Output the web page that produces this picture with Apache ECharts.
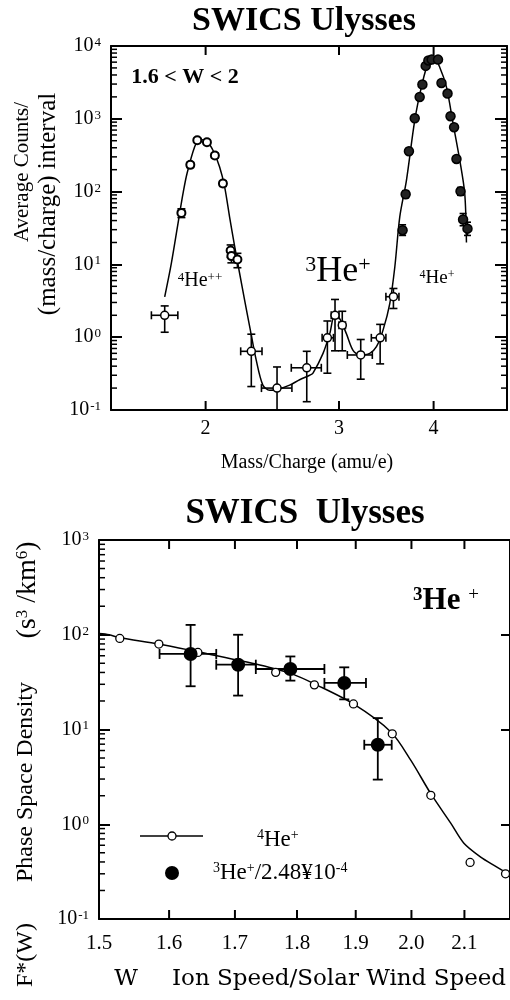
<!DOCTYPE html>
<html><head><meta charset="utf-8">
<script src="https://cdn.jsdelivr.net/npm/echarts@6/dist/echarts.min.js"></script>
<style>html,body{margin:0;padding:0;background:#fff}#c{width:510px;height:1000px}</style>
</head><body><div id="c"></div>
<script>
// ================= TOP PANEL (counts vs mass/charge) =================
const MQ_TICKS = [2, 3, 4];
const MQ_TICK_LABELS = ['2', '3', '4'];
// open circles with error bars
const LOW_MQ     = [1.766, 2.298, 2.485, 2.720, 2.896, 2.964, 3.030, 3.205, 3.400, 3.540];
const LOW_CNT    = [2.0,   0.64,  0.20,  0.38,  0.98,  2.0,   1.46,  0.57,  0.98,  3.6];
const LOW_MQ_LO  = [1.696, 2.225, 2.370, 2.595, 2.850, 2.930, 3.000, 3.077, 3.310, 3.460];
const LOW_MQ_HI  = [1.838, 2.374, 2.600, 2.843, 2.950, 3.000, 3.060, 3.320, 3.460, 3.600];
const LOW_CNT_LO = [1.17,  0.21,  0.10,  0.13,  0.32,  0.65,  0.65,  0.265, 0.43,  2.48];
const LOW_CNT_HI = [2.69,  1.10,  0.39,  0.64,  1.67,  3.3,   2.27,  0.93,  1.5,   4.67];
// 4He++ peak points
const PKL_MQ     = [1.858, 1.909, 1.950, 2.008, 2.057, 2.108, 2.158, 2.163, 2.203];
const PKL_CNT    = [51,    233,   508,   477,   313,   129,   15.5,  13,    11.7];
const PKL_CNT_LO = [44,    215,   480,   450,   290,   118,   12.5,  10.5,  9.0];
const PKL_CNT_HI = [58,    252,   540,   505,   338,   141,   18.5,  15.5,  14.2];
// 4He+ peak points
const PKR_MQ     = [3.640, 3.674, 3.711, 3.777, 3.834, 3.866, 3.905, 3.937, 3.977, 4.054, 4.097, 4.173, 4.211, 4.257, 4.288, 4.341, 4.375, 4.434];
const PKR_CNT    = [29.5,  92,    359,   1018,  1995,  2960,  5330,  6330,  6500,  6500,  3110,  2220,  1086,  767,   281,   101,   41.4,  31];
const PKR_CNT_LO = [25,    82,    330,   950,   1870,  2780,  5050,  6000,  6150,  6150,  2920,  2070,  1010,  710,   255,   89,    34,    25];
const PKR_CNT_HI = [35,    103,   390,   1090,  2130,  3150,  5620,  6680,  6860,  6860,  3310,  2380,  1170,  830,   310,   114,   50,    38];
// fitted curve
const FIT1_MQ  = [1.766, 1.802, 1.848, 1.867, 1.890, 1.934, 1.964, 2.004, 2.045, 2.087, 2.119, 2.151, 2.184, 2.218, 2.252, 2.287, 2.333, 2.380, 2.430, 2.480, 2.582, 2.662, 2.744, 2.772, 2.858, 2.917, 2.961, 3.006, 3.068, 3.131, 3.195, 3.294, 3.362, 3.430, 3.501, 3.555, 3.609, 3.683, 3.777, 3.855, 3.933, 4.013, 4.075, 4.159, 4.244, 4.331, 4.397, 4.420];
const FIT1_CNT = [3.58,  10.3,  50,    94,    177,   411,   520,   497,   370,   218,   116,   45,    18,    7.5,   3.2,   1.39,  0.48,  0.22,  0.187, 0.19,  0.22,  0.26,  0.30,  0.32,  0.6,   1.12,  2.0,   1.8,   1.12,  0.66,  0.57,  0.6,   0.74,  1.25,  2.9,   9.2,   45,    143,   950,   2740,  5730,  6600,  5110,  2740,  860,   270,   94,    20];

// ================= BOTTOM PANEL (phase space density vs W) =================
const W_TICKS = [1.5, 1.6, 1.7, 1.8, 1.9, 2.0, 2.1];
const W_TICK_LABELS = ['1.5', '1.6', '1.7', '1.8', '1.9', '2.0', '2.1'];
const HE4_W = [1.529, 1.585, 1.643, 1.765, 1.829, 1.896, 1.965, 2.036, 2.111, 2.181];
const HE4_F = [91.4,  79.8,  65.1,  40.1,  29.6,  18.6,  9.0,   2.02,  0.395, 0.30];
const FIT2_W = [1.500, 1.514, 1.529, 1.585, 1.643, 1.733, 1.765, 1.792, 1.829, 1.896, 1.963, 1.999, 2.036, 2.074, 2.099, 2.131, 2.163, 2.190];
const FIT2_F = [103,   100,   93,    80,    66,    49.2,  43.5,  38.6,  30.3,  18.6,  9.37,  4.72,  2.10,  1.02,  0.63,  0.453, 0.355, 0.29];
const HE3_W    = [1.632, 1.705, 1.789, 1.880, 1.939];
const HE3_F    = [62.7,  48.3,  43.5,  31.0,  6.9];
const HE3_W_LO = [1.586, 1.671, 1.733, 1.846, 1.915];
const HE3_W_HI = [1.671, 1.733, 1.846, 1.918, 1.964];
const HE3_F_LO = [28.6,  22.8,  32.8,  20.8,  2.96];
const HE3_F_HI = [127,   100,   59,    45.3,  13.2];

const MINOR_MULT = [2, 3, 4, 5, 6, 7, 8, 9];
const TOP_DECADES = [0.1, 1, 10, 100, 1000];
const BOT_DECADES = [0.1, 1, 10, 100];

const X1 = [1.5, 5], Y1 = [0.1, 10000];
const X2 = [1.5, 2.19], Y2 = [0.1, 1000];
const SERIF = 'Liberation Serif';
const CENT = 'DejaVu Serif';
const TICKC = '#000';

const zip = (a, b) => a.map((v, i) => [v, b[i]]);
const minorVals = d => d.flatMap(dd => MINOR_MULT.map(m => +(m * dd).toPrecision(3)));

function errRender(cap, lw) {
  return function (params, api) {
    const x = api.value(0), y = api.value(1);
    const c = api.coord([x, y]);
    const pl = api.coord([api.value(2), y]), ph = api.coord([api.value(3), y]);
    const pb = api.coord([x, api.value(4)]), pt = api.coord([x, api.value(5)]);
    const ch = [];
    const L = (x1, y1, x2, y2) => ch.push({ type: 'line', shape: { x1: x1, y1: y1, x2: x2, y2: y2 }, style: { stroke: '#000', lineWidth: lw } });
    if (ph[0] - pl[0] > 1) {
      L(pl[0], c[1], ph[0], c[1]);
      L(pl[0], c[1] - cap, pl[0], c[1] + cap);
      L(ph[0], c[1] - cap, ph[0], c[1] + cap);
    }
    if (pb[1] - pt[1] > 1) {
      L(c[0], pt[1], c[0], pb[1]);
      L(c[0] - cap, pt[1], c[0] + cap, pt[1]);
      L(c[0] - cap, pb[1], c[0] + cap, pb[1]);
    }
    return { type: 'group', children: ch };
  };
}

function xTickRender(yMin, yMax, labels, len, font, labelOff) {
  return function (params, api) {
    const v = api.value(0);
    const b = api.coord([v, yMin]), t = api.coord([v, yMax]);
    return { type: 'group', children: [
      { type: 'line', shape: { x1: b[0], y1: b[1], x2: b[0], y2: b[1] - len }, style: { stroke: TICKC, lineWidth: 2 } },
      { type: 'line', shape: { x1: t[0], y1: t[1], x2: t[0], y2: t[1] + len }, style: { stroke: TICKC, lineWidth: 2 } },
      { type: 'text', x: b[0], y: b[1] + labelOff, style: { text: labels[params.dataIndex], fontFamily: SERIF, fontSize: font, fill: '#000', align: 'center', verticalAlign: 'middle' } }
    ] };
  };
}

function yMinorRender(xMin, xMax, len, both) {
  return function (params, api) {
    const v = api.value(1);
    const l = api.coord([xMin, v]), r = api.coord([xMax, v]);
    const ch = [{ type: 'line', shape: { x1: l[0], y1: l[1], x2: l[0] + len, y2: l[1] }, style: { stroke: TICKC, lineWidth: 1.5 } }];
    if (both) ch.push({ type: 'line', shape: { x1: r[0], y1: r[1], x2: r[0] - len, y2: r[1] }, style: { stroke: TICKC, lineWidth: 1.5 } });
    return { type: 'group', children: ch };
  };
}

const supRich = (fs, sfs) => ({
  b: { fontFamily: SERIF, fontSize: fs, color: '#000' },
  s: { fontFamily: SERIF, fontSize: sfs, color: '#000', verticalAlign: 'top', padding: [0, 0, 0, 1] }
});
const powLabel = v => '{b|10}{s|' + Math.round(Math.log10(v)) + '}';

function yAxes(grid, yr, majLen, rightLen) {
  return [
    { type: 'log', gridIndex: grid, min: yr[0], max: yr[1], logBase: 10,
      axisLine: { show: true, lineStyle: { color: '#000', width: 2 } }, splitLine: { show: false },
      axisTick: { show: true, inside: true, length: majLen, lineStyle: { color: TICKC, width: 2 } },
      axisLabel: { formatter: powLabel, margin: 10, rich: supRich(20, 13) } },
    { type: 'log', gridIndex: grid, position: 'right', min: yr[0], max: yr[1], logBase: 10,
      axisLine: { show: true, lineStyle: { color: '#000', width: 2 } }, splitLine: { show: false },
      axisTick: { show: true, inside: true, length: rightLen, lineStyle: { color: TICKC, width: 2 } },
      axisLabel: { show: false } }
  ];
}
const xAx = (grid, xr, pos) => ({ type: 'log', gridIndex: grid, min: xr[0], max: xr[1], logBase: 10, position: pos,
  axisLine: { show: true, lineStyle: { color: '#000', width: 2 } }, axisTick: { show: false }, axisLabel: { show: false }, splitLine: { show: false } });

function txt(x, y, text, fs, opts) {
  opts = opts || {};
  return { type: 'text', x: x, y: y, rotation: opts.rot || 0, z: 100,
    style: { text: text, fontFamily: opts.ff || SERIF, fontSize: fs, fontWeight: opts.bold ? 'bold' : 'normal',
      fill: '#000', align: opts.align || 'center', verticalAlign: 'middle',
      rich: opts.rich } };
}
const rich2 = (fs, sfs, bold, ff) => ({
  b: { fontFamily: ff || SERIF, fontSize: fs, fontWeight: bold ? 'bold' : 'normal', color: '#000' },
  s: { fontFamily: ff || SERIF, fontSize: sfs, fontWeight: bold ? 'bold' : 'normal', color: '#000', verticalAlign: 'top' },
  n: { fontFamily: ff || SERIF, fontSize: sfs, color: '#000', verticalAlign: 'top' }
});

const option = {
  animation: false,
  grid: [
    { left: 111, top: 46, width: 396, height: 364 },
    { left: 99, top: 540, width: 414, height: 379 }
  ],
  xAxis: [xAx(0, X1, 'bottom'), xAx(0, X1, 'top'), xAx(1, X2, 'bottom'), xAx(1, X2, 'top')],
  yAxis: [...yAxes(0, Y1, 11, 12), ...yAxes(1, Y2, 11, 9)],
  series: [
    // ---- top ----
    { type: 'line', xAxisIndex: 0, yAxisIndex: 0, data: zip(FIT1_MQ, FIT1_CNT), showSymbol: false, smooth: 0.3,
      lineStyle: { color: '#000', width: 1.5 }, z: 2 },
    { type: 'custom', xAxisIndex: 0, yAxisIndex: 0, renderItem: errRender(4, 1.6), encode: { x: 0, y: 1 }, z: 3,
      data: LOW_MQ.map((m, i) => [m, LOW_CNT[i], LOW_MQ_LO[i], LOW_MQ_HI[i], LOW_CNT_LO[i], LOW_CNT_HI[i]]) },
    { type: 'custom', xAxisIndex: 0, yAxisIndex: 0, renderItem: errRender(4, 1.6), encode: { x: 0, y: 1 }, z: 3,
      data: PKL_MQ.map((m, i) => [m, PKL_CNT[i], m, m, PKL_CNT_LO[i], PKL_CNT_HI[i]]) },
    { type: 'custom', xAxisIndex: 0, yAxisIndex: 0, renderItem: errRender(3.5, 1.6), encode: { x: 0, y: 1 }, z: 3,
      data: PKR_MQ.map((m, i) => [m, PKR_CNT[i], m, m, PKR_CNT_LO[i], PKR_CNT_HI[i]]) },
    { type: 'scatter', xAxisIndex: 0, yAxisIndex: 0, data: zip(LOW_MQ, LOW_CNT), symbol: 'circle', symbolSize: 8, z: 5,
      itemStyle: { color: '#fff', borderColor: '#000', borderWidth: 1.5, opacity: 1 } },
    { type: 'scatter', xAxisIndex: 0, yAxisIndex: 0, data: zip(PKL_MQ, PKL_CNT), symbol: 'circle', symbolSize: 8, z: 5,
      itemStyle: { color: '#fff', borderColor: '#000', borderWidth: 2, opacity: 1 } },
    { type: 'scatter', xAxisIndex: 0, yAxisIndex: 0, data: zip(PKR_MQ, PKR_CNT), symbol: 'circle', symbolSize: 9, z: 5,
      itemStyle: { color: '#222', borderColor: '#000', borderWidth: 1.5, opacity: 1 } },
    { type: 'custom', xAxisIndex: 0, yAxisIndex: 0, renderItem: xTickRender(Y1[0], Y1[1], MQ_TICK_LABELS, 9, 20, 19),
      encode: { x: 0, y: 1 }, data: MQ_TICKS.map(v => [v, Y1[0]]), z: 10 },
    { type: 'custom', xAxisIndex: 0, yAxisIndex: 0, renderItem: yMinorRender(X1[0], X1[1], 6, true),
      encode: { x: 0, y: 1 }, data: minorVals(TOP_DECADES).map(v => [X1[0], v]), z: 10 },
    // ---- bottom ----
    { type: 'line', xAxisIndex: 2, yAxisIndex: 2, data: zip(FIT2_W, FIT2_F), showSymbol: false, smooth: 0.3,
      lineStyle: { color: '#000', width: 1.5 }, z: 2 },
    { type: 'scatter', xAxisIndex: 2, yAxisIndex: 2, data: zip(HE4_W, HE4_F), symbol: 'circle', symbolSize: 8, z: 5,
      itemStyle: { color: '#fff', borderColor: '#000', borderWidth: 1.3, opacity: 1 } },
    { type: 'custom', xAxisIndex: 2, yAxisIndex: 2, renderItem: errRender(5, 1.8), encode: { x: 0, y: 1 }, z: 3,
      data: HE3_W.map((w, i) => [w, HE3_F[i], HE3_W_LO[i], HE3_W_HI[i], HE3_F_LO[i], HE3_F_HI[i]]) },
    { type: 'scatter', xAxisIndex: 2, yAxisIndex: 2, data: zip(HE3_W, HE3_F), symbol: 'circle', symbolSize: 14, z: 6,
      itemStyle: { color: '#000', opacity: 1 } },
    { type: 'custom', xAxisIndex: 2, yAxisIndex: 2, renderItem: xTickRender(Y2[0], Y2[1], W_TICK_LABELS, 9, 21, 24),
      encode: { x: 0, y: 1 }, data: W_TICKS.map(v => [v, Y2[0]]), z: 10 },
    { type: 'custom', xAxisIndex: 2, yAxisIndex: 2, renderItem: yMinorRender(X2[0], X2[1], 6, false),
      encode: { x: 0, y: 1 }, data: minorVals(BOT_DECADES).map(v => [X2[0], v]), z: 10 }
  ],
  graphic: [
    // top panel texts
    txt(304, 21, 'SWICS Ulysses', 34, { bold: true }),
    txt(185, 77, '1.6 < W < 2', 22, { bold: true }),
    txt(200, 281, '{s|4}{b|He}{s|++}', 20, { rich: rich2(20, 13) }),
    txt(338, 272, '{s|3}{b|He}{s|+}', 36, { rich: rich2(36, 22) }),
    txt(437, 278, '{s|4}{b|He}{s|+}', 19, { rich: rich2(19, 12) }),
    txt(307, 463, 'Mass/Charge (amu/e)', 20),
    txt(22, 172, 'Average Counts/', 21, { rot: Math.PI / 2 }),
    txt(48, 204, '(mass/charge) interval', 25, { rot: Math.PI / 2 }),
    // bottom panel texts
    txt(305, 514, 'SWICS  Ulysses', 35, { bold: true }),
    txt(446, 601, '{s|3}{b|He }{n|+}', 31, { rich: rich2(31, 19, true) }),
    { type: 'line', z: 100, shape: { x1: 140, y1: 836, x2: 203, y2: 836 }, style: { stroke: '#000', lineWidth: 1.5 } },
    { type: 'circle', z: 101, shape: { cx: 172, cy: 836, r: 4 }, style: { fill: '#fff', stroke: '#000', lineWidth: 1.3 } },
    txt(257, 840, '{s|4}{b|He}{s|+}', 23, { align: 'left', rich: rich2(23, 14) }),
    { type: 'circle', z: 101, shape: { cx: 172, cy: 873, r: 7 }, style: { fill: '#000' } },
    txt(213, 873, '{s|3}{b|He}{s|+}{b|/2.48¥10}{s|-4}', 23, { align: 'left', rich: rich2(23, 14) }),
    txt(126, 979, 'W', 23, { ff: CENT }),
    txt(172, 979, 'Ion Speed/Solar Wind Speed', 23, { align: 'left', ff: CENT }),
    txt(26, 955, 'F*(W)', 24, { rot: Math.PI / 2 }),
    txt(26, 782, 'Phase Space Density', 24, { rot: Math.PI / 2 }),
    txt(28, 590, '{b|(s}{s|3}{b| /km}{s|6}{b|)}', 28, { rot: Math.PI / 2, rich: rich2(28, 17) })
  ]
};

const chart = echarts.init(document.getElementById('c'), null, { renderer: 'canvas' });
chart.setOption(option);
</script>
</body></html>
